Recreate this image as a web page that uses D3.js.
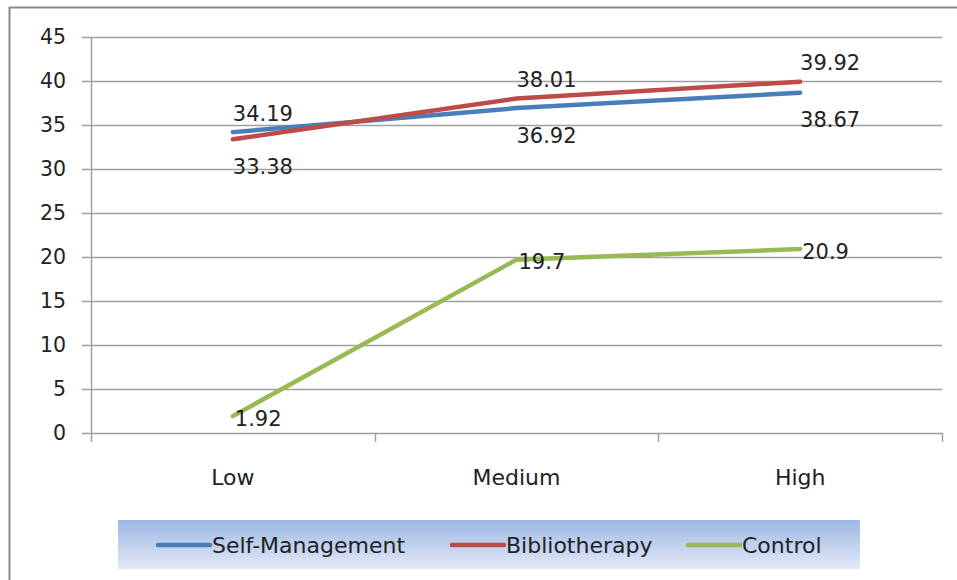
<!DOCTYPE html>
<html>
<head>
<meta charset="utf-8">
<script src="https://cdn.jsdelivr.net/npm/d3@7"></script>
<style>
  body { margin: 0; background: #fff; }
  svg { display: block; }
</style>
</head>
<body>
<div id="chart"></div>
<script>

// Data
const categories = ['Low', 'Medium', 'High'];
const selfManagement = [34.19, 36.92, 38.67];
const bibliotherapy = [33.38, 38.01, 39.92];
const control = [1.92, 19.7, 20.9];
const yTicks = [0, 5, 10, 15, 20, 25, 30, 35, 40, 45];

const series = [
  {name: 'Self-Management', values: selfManagement, color: '#4a7ebb', place: ['above', 'below', 'below']},
  {name: 'Bibliotherapy', values: bibliotherapy, color: '#be4b48', place: ['below', 'above', 'above']},
  {name: 'Control', values: control, color: '#98b954', place: ['right', 'right', 'right']}
];

// Page Dimensions
const W = 957, H = 580;
const plot = {left: 91, right: 942, top: 37, bottom: 433};
const font_family = "'DejaVu Sans', sans-serif";
const gridColor = '#a0a0a0';
const textColor = '#222';

const svg = d3.select('#chart').append('svg')
  .attr('width', W)
  .attr('height', H);

// outer frame (only left/top visible in the crop)
svg.append('rect')
  .attr('x', 9.5).attr('y', 7.5)
  .attr('width', 1000).attr('height', 1000)
  .attr('fill', 'none')
  .attr('stroke', '#8a8a8a')
  .attr('stroke-width', 2);

const x = d3.scaleBand()
  .domain(categories)
  .range([plot.left, plot.right]);

const y = d3.scaleLinear()
  .domain([0, 45])
  .range([plot.bottom, plot.top]);

// gridlines
svg.append('g')
  .selectAll('line')
  .data(yTicks)
  .enter()
  .append('line')
  .attr('x1', plot.left - 9)
  .attr('x2', plot.right)
  .attr('y1', d => Math.round(y(d)) + 0.5)
  .attr('y2', d => Math.round(y(d)) + 0.5)
  .style('stroke', gridColor)
  .style('stroke-width', 1.5);

// y axis line
svg.append('line')
  .attr('x1', plot.left + 0.5).attr('x2', plot.left + 0.5)
  .attr('y1', plot.top).attr('y2', plot.bottom + 9)
  .style('stroke', gridColor)
  .style('stroke-width', 1.5);

// x axis ticks at band edges
const edges = categories.map(c => x(c)).concat([x.range()[1]]);
svg.append('g')
  .selectAll('line')
  .data(edges.slice(1))
  .enter()
  .append('line')
  .attr('x1', d => Math.round(d) + 0.5)
  .attr('x2', d => Math.round(d) + 0.5)
  .attr('y1', plot.bottom)
  .attr('y2', plot.bottom + 9)
  .style('stroke', gridColor)
  .style('stroke-width', 1.5);

// y tick labels
svg.append('g')
  .selectAll('text')
  .data(yTicks)
  .enter()
  .append('text')
  .attr('x', 66)
  .attr('y', d => y(d))
  .attr('dy', '0.36em')
  .attr('text-anchor', 'end')
  .attr('font-family', font_family)
  .attr('font-size', 20.5)
  .attr('fill', textColor)
  .text(d => d);

// x tick labels
svg.append('g')
  .selectAll('text')
  .data(categories)
  .enter()
  .append('text')
  .attr('x', d => x(d) + x.bandwidth() / 2)
  .attr('y', 477)
  .attr('dy', '0.36em')
  .attr('text-anchor', 'middle')
  .attr('font-family', font_family)
  .attr('font-size', 22)
  .attr('fill', textColor)
  .text(d => d);

// lines
const line = d3.line()
  .x((d, i) => x(categories[i]) + x.bandwidth() / 2)
  .y(d => y(d));

svg.append('g')
  .selectAll('path')
  .data(series)
  .enter()
  .append('path')
  .attr('d', d => line(d.values))
  .attr('fill', 'none')
  .style('stroke', d => d.color)
  .style('stroke-width', 4.5)
  .style('stroke-linecap', 'round')
  .style('stroke-linejoin', 'round');

// data labels
series.forEach(s => {
  svg.append('g')
    .selectAll('text')
    .data(s.values)
    .enter()
    .append('text')
    .attr('x', (d, i) => {
      const cx = x(categories[i]) + x.bandwidth() / 2;
      return s.place[i] === 'right' ? cx + 2 : cx + 30;
    })
    .attr('y', (d, i) => {
      const cy = y(d);
      if (s.place[i] === 'above') return cy - 19;
      if (s.place[i] === 'below') return cy + 27;
      return cy + 2;
    })
    .attr('dy', '0.36em')
    .attr('text-anchor', (d, i) => s.place[i] === 'right' ? 'start' : 'middle')
    .attr('font-family', font_family)
    .attr('font-size', 21)
    .attr('fill', textColor)
    .text(d => d);
});

// Legend
const defs = svg.append('defs');
const grad = defs.append('linearGradient')
  .attr('id', 'legendGrad')
  .attr('x1', 0).attr('y1', 0).attr('x2', 0).attr('y2', 1);
grad.append('stop').attr('offset', '0%').attr('stop-color', '#9db8e4');
grad.append('stop').attr('offset', '100%').attr('stop-color', '#e2e9f6');

svg.append('rect')
  .attr('x', 118).attr('y', 520)
  .attr('width', 742).attr('height', 49)
  .attr('fill', 'url(#legendGrad)');

const legendX = [158, 452, 688];
const legend = svg.append('g')
  .selectAll('g')
  .data(series)
  .enter()
  .append('g')
  .attr('transform', (d, i) => `translate(${legendX[i]},545)`);

legend.append('line')
  .attr('x1', 0).attr('x2', 52)
  .style('stroke', d => d.color)
  .style('stroke-width', 4.5)
  .style('stroke-linecap', 'round');

legend.append('text')
  .attr('x', 54)
  .attr('dy', '0.36em')
  .attr('font-family', font_family)
  .attr('font-size', 22)
  .attr('fill', textColor)
  .text(d => d.name);

</script>
</body>
</html>
